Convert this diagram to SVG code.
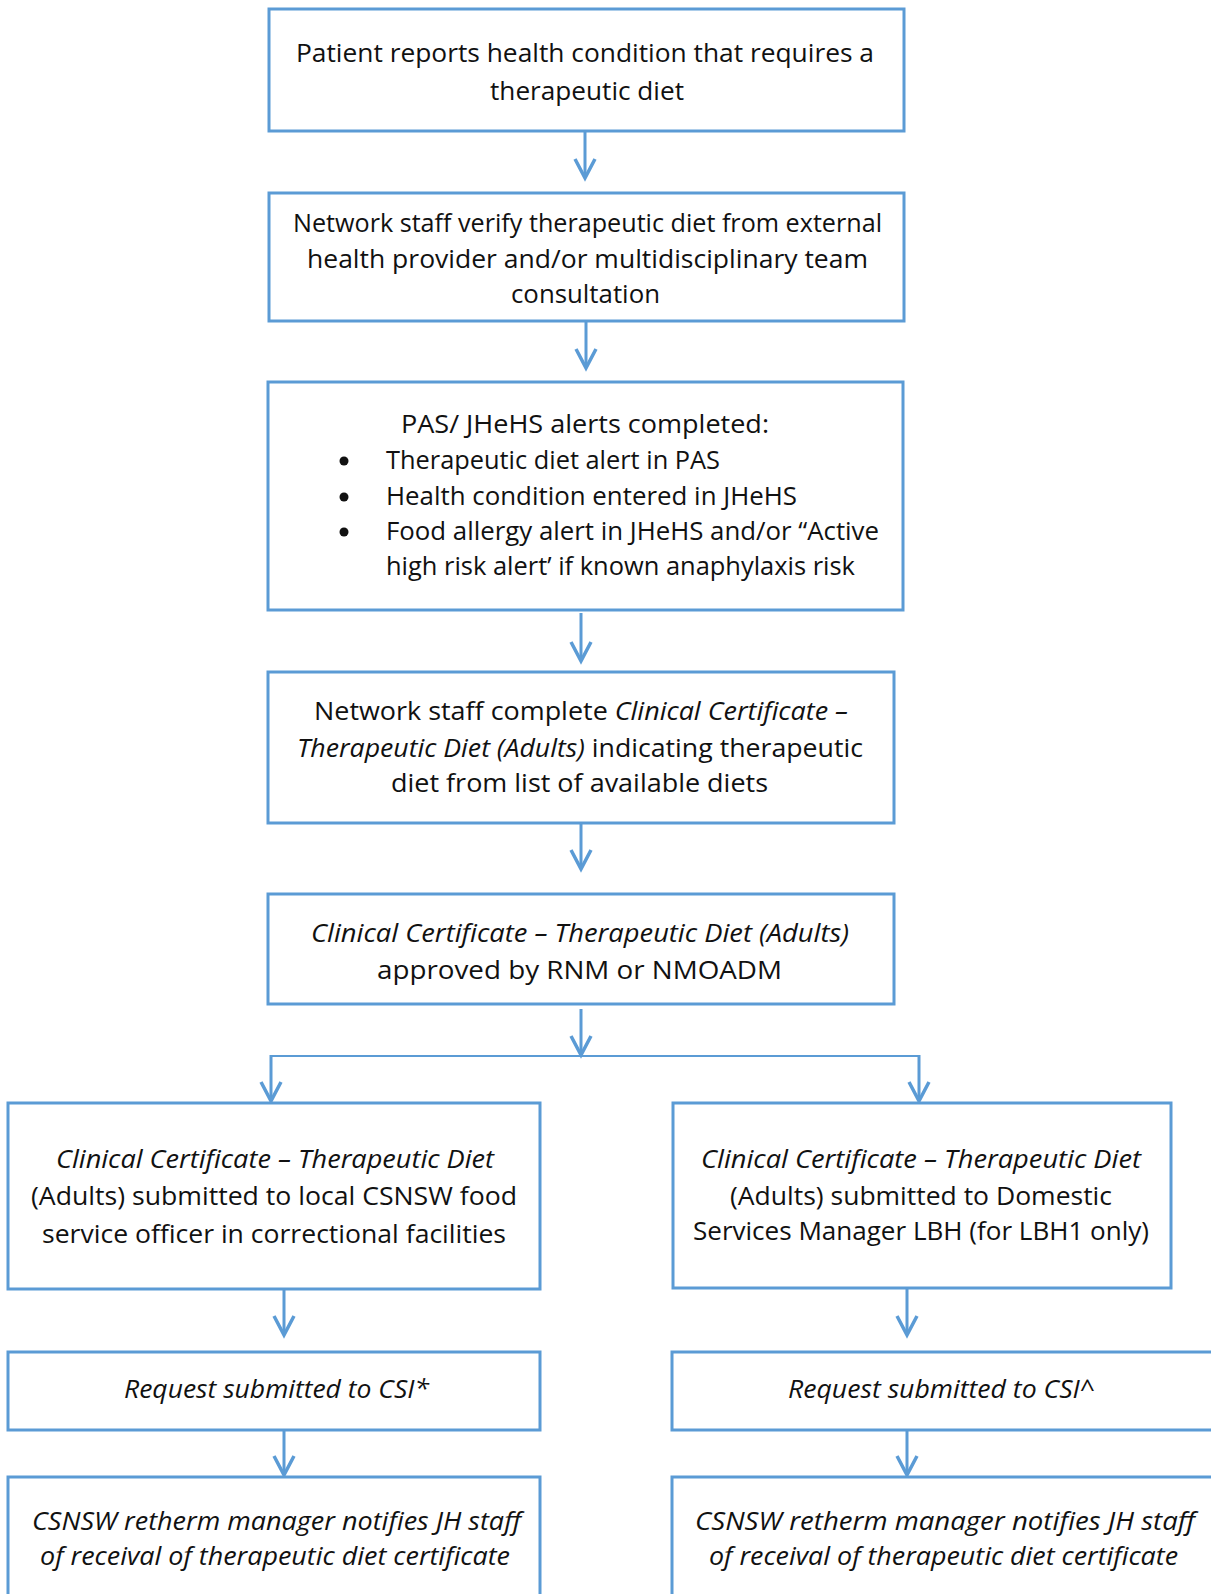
<svg xmlns="http://www.w3.org/2000/svg" width="1211" height="1594" viewBox="0 0 1211 1594">
<style>
.box{fill:#fff;stroke:#5B9BD5;stroke-width:3}
.con{fill:none;stroke:#5B9BD5;stroke-width:3}
.t{font-family:"Open Sans","Noto Sans","DejaVu Sans",sans-serif;font-size:25px;fill:#111}
.i{font-style:italic}
</style>
<defs>
<marker id="arr" viewBox="-22 -12 26 24" markerUnits="userSpaceOnUse" markerWidth="26" markerHeight="24" refX="0" refY="0" orient="auto">
<path d="M-19,-10 L0,0 L-19,10" fill="none" stroke="#5B9BD5" stroke-width="3.5"/>
</marker>
</defs>
<rect width="1211" height="1594" fill="#fff"/>

<g id="connectors">
<line class="con" x1="585" y1="131" x2="585" y2="178" marker-end="url(#arr)"/>
<line class="con" x1="586" y1="321" x2="586" y2="368" marker-end="url(#arr)"/>
<line class="con" x1="581" y1="613" x2="581" y2="661" marker-end="url(#arr)"/>
<line class="con" x1="581" y1="823" x2="581" y2="869" marker-end="url(#arr)"/>
<line class="con" x1="581" y1="1009" x2="581" y2="1055" marker-end="url(#arr)"/>
<line class="con" x1="271" y1="1056" x2="919" y2="1056" style="stroke-width:2"/>
<line class="con" x1="271" y1="1055" x2="271" y2="1101" marker-end="url(#arr)"/>
<line class="con" x1="919" y1="1055" x2="919" y2="1101" marker-end="url(#arr)"/>
<line class="con" x1="284" y1="1290" x2="284" y2="1335" marker-end="url(#arr)"/>
<line class="con" x1="907" y1="1289" x2="907" y2="1335" marker-end="url(#arr)"/>
<line class="con" x1="284" y1="1430" x2="284" y2="1475" marker-end="url(#arr)"/>
<line class="con" x1="907" y1="1430" x2="907" y2="1475" marker-end="url(#arr)"/>
</g>

<g id="n1">
<rect class="box" x="269" y="9" width="635" height="122"/>
<text class="t" x="296" y="62" textLength="578" lengthAdjust="spacingAndGlyphs">Patient reports health condition that requires a</text>
<text class="t" x="490" y="100" textLength="194" lengthAdjust="spacingAndGlyphs">therapeutic diet</text>
</g>

<g id="n2">
<rect class="box" x="269" y="193" width="635" height="128"/>
<text class="t" x="293" y="232" textLength="589" lengthAdjust="spacingAndGlyphs">Network staff verify therapeutic diet from external</text>
<text class="t" x="307" y="268" textLength="561" lengthAdjust="spacingAndGlyphs">health provider and/or multidisciplinary team</text>
<text class="t" x="511" y="303" textLength="149" lengthAdjust="spacingAndGlyphs">consultation</text>
</g>

<g id="n3">
<rect class="box" x="268" y="382" width="635" height="228"/>
<text class="t" x="401" y="433" textLength="368" lengthAdjust="spacingAndGlyphs">PAS/ JHeHS alerts completed:</text>
<circle cx="344" cy="461" r="4.5" fill="#111"/>
<circle cx="344" cy="497" r="4.5" fill="#111"/>
<circle cx="344" cy="532" r="4.5" fill="#111"/>
<text class="t" x="386" y="469" textLength="334" lengthAdjust="spacingAndGlyphs">Therapeutic diet alert in PAS</text>
<text class="t" x="386" y="505" textLength="411" lengthAdjust="spacingAndGlyphs">Health condition entered in JHeHS</text>
<text class="t" x="386" y="540" textLength="493" lengthAdjust="spacingAndGlyphs">Food allergy alert in JHeHS and/or “Active</text>
<text class="t" x="386" y="575" textLength="469" lengthAdjust="spacingAndGlyphs">high risk alert’ if known anaphylaxis risk</text>
</g>

<g id="n4">
<rect class="box" x="268" y="672" width="626" height="151"/>
<text class="t" x="314" y="720" textLength="534" lengthAdjust="spacingAndGlyphs">Network staff complete <tspan class="i">Clinical Certificate –</tspan></text>
<text class="t" x="297" y="757" textLength="566" lengthAdjust="spacingAndGlyphs"><tspan class="i">Therapeutic Diet (Adults)</tspan> indicating therapeutic</text>
<text class="t" x="391" y="792" textLength="377" lengthAdjust="spacingAndGlyphs">diet from list of available diets</text>
</g>

<g id="n5">
<rect class="box" x="268" y="894" width="626" height="110"/>
<text class="t i" x="311" y="942" textLength="538" lengthAdjust="spacingAndGlyphs">Clinical Certificate – Therapeutic Diet (Adults)</text>
<text class="t" x="377" y="979" textLength="405" lengthAdjust="spacingAndGlyphs">approved by RNM or NMOADM</text>
</g>

<g id="n6l">
<rect class="box" x="8" y="1103" width="532" height="186"/>
<text class="t i" x="56" y="1168" textLength="438" lengthAdjust="spacingAndGlyphs">Clinical Certificate – Therapeutic Diet</text>
<text class="t" x="31" y="1205" textLength="486" lengthAdjust="spacingAndGlyphs">(Adults) submitted to local CSNSW food</text>
<text class="t" x="42" y="1243" textLength="464" lengthAdjust="spacingAndGlyphs">service officer in correctional facilities</text>
</g>

<g id="n6r">
<rect class="box" x="673" y="1103" width="498" height="185"/>
<text class="t i" x="701" y="1168" textLength="440" lengthAdjust="spacingAndGlyphs">Clinical Certificate – Therapeutic Diet</text>
<text class="t" x="730" y="1205" textLength="382" lengthAdjust="spacingAndGlyphs">(Adults) submitted to Domestic</text>
<text class="t" x="693" y="1240" textLength="456" lengthAdjust="spacingAndGlyphs">Services Manager LBH (for LBH1 only)</text>
</g>

<g id="n7l">
<rect class="box" x="8" y="1352" width="532" height="78"/>
<text class="t i" x="124" y="1398" textLength="305" lengthAdjust="spacingAndGlyphs">Request submitted to CSI*</text>
</g>

<g id="n7r">
<rect class="box" x="672" y="1352" width="560" height="78"/>
<text class="t i" x="788" y="1398" textLength="307" lengthAdjust="spacingAndGlyphs">Request submitted to CSI^</text>
</g>

<g id="n8l">
<rect class="box" x="8" y="1477" width="532" height="140"/>
<text class="t i" x="32" y="1530" textLength="489" lengthAdjust="spacingAndGlyphs">CSNSW retherm manager notifies JH staff</text>
<text class="t i" x="40" y="1565" textLength="470" lengthAdjust="spacingAndGlyphs">of receival of therapeutic diet certificate</text>
</g>

<g id="n8r">
<rect class="box" x="672" y="1477" width="560" height="140"/>
<text class="t i" x="695" y="1530" textLength="500" lengthAdjust="spacingAndGlyphs">CSNSW retherm manager notifies JH staff</text>
<text class="t i" x="709" y="1565" textLength="469" lengthAdjust="spacingAndGlyphs">of receival of therapeutic diet certificate</text>
</g>
</svg>
